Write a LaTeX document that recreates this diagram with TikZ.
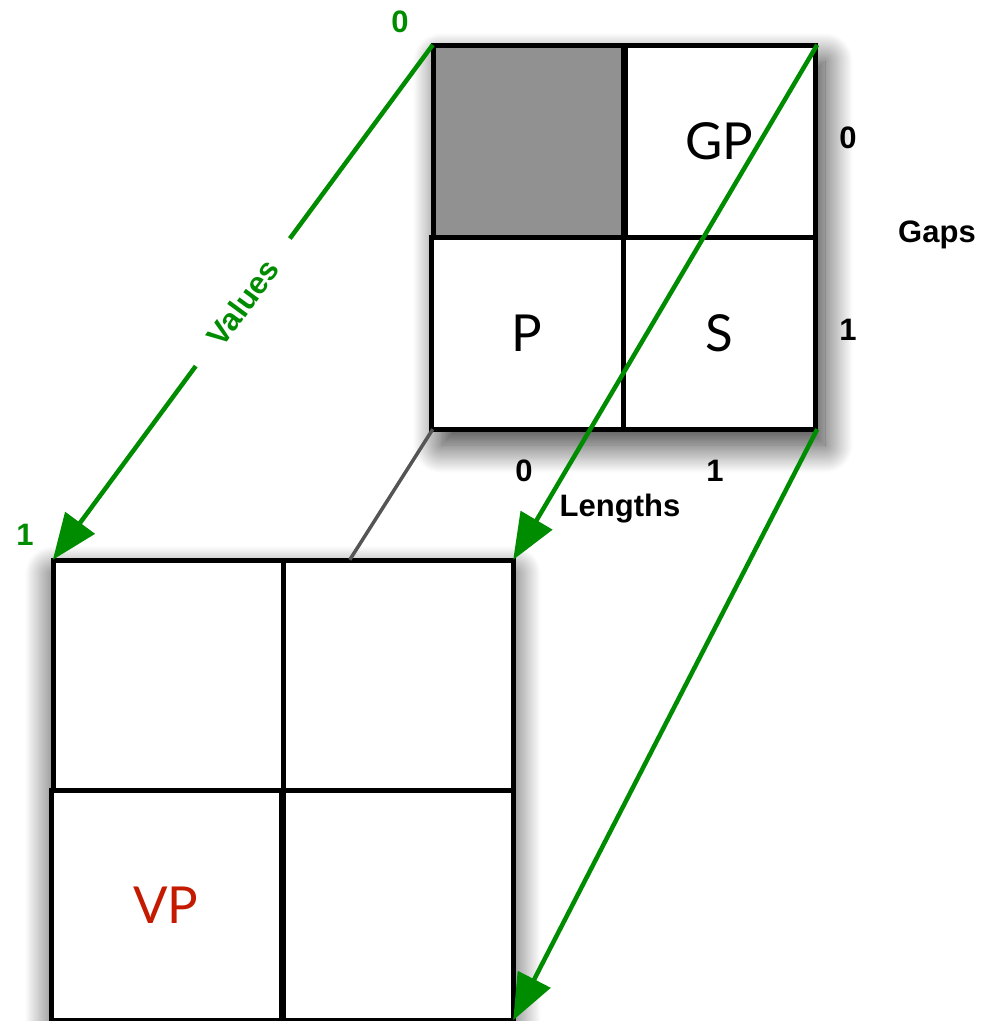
\documentclass[tikz,border=0pt]{standalone}
\usepackage{fontspec}
\setmainfont{Liberation Sans}
\newfontfamily\cellfont{Lato}
\usetikzlibrary{arrows.meta,shadows.blur,calc}
\definecolor{vgreen}{HTML}{008C00}
\definecolor{vred}{HTML}{C41A00}
\definecolor{cellgray}{HTML}{919191}
\definecolor{linegray}{HTML}{555555}
\begin{document}
\begin{tikzpicture}[x=1pt,y=-1pt,
  cellbox/.style={draw=black,line width=5pt,minimum size=192pt,inner sep=0pt,
    font=\cellfont\fontsize{51}{51}\selectfont},
  bigcell/.style={cellbox,minimum size=230pt},
  gridbox/.style={fill=white,inner sep=0pt},
  lab/.style={font=\bfseries\fontsize{31}{31}\selectfont,inner sep=1pt},
  glab/.style={lab,text=vgreen},
  garrow/.style={draw=vgreen,line width=4.5pt,-{Triangle[length=46pt,width=36pt]}},
  ]
\useasboundingbox (0,0) rectangle (984,1021);
% top grid
\node[gridbox,minimum size=384pt,
  blur shadow={shadow xshift=8pt,shadow yshift=-16pt,shadow blur radius=28pt,
    shadow blur steps=30,shadow opacity=80}] (T) at (625,237) {};
\node[cellbox,fill=cellgray] (t00) at (529,141) {};
\node[cellbox] (t10) at (719,141) {GP};
\node[cellbox] (t01) at (527,333) {P};
\node[cellbox] (t11) at (719,333) {S};
% bottom grid
\node[gridbox,minimum size=460pt,
  blur shadow={shadow xshift=0pt,shadow yshift=-14pt,shadow blur radius=28pt,
    shadow blur steps=30,shadow opacity=80}] (B) at (283,790) {};
\node[bigcell] (b00) at (168,675) {};
\node[bigcell] (b10) at (398,675) {};
\node[bigcell,text=vred] (b01) at (166,905) {VP};
\node[bigcell] (b11) at (398,905) {};
% connector between grids
\draw[draw=linegray,line width=3.5pt] (T.south west) -- ($(B.north west)!0.645!(B.north east)$);
% green arrows
\draw[garrow] (T.north west) -- node[sloped,fill=white,glab,inner xsep=30pt,inner ysep=2pt] (vl) {Values} (B.north west);
\draw[garrow] (T.north east) -- (B.north east);
\draw[garrow] (T.south east) -- (B.south east);
% labels
\node[glab] (v0) at (400,22) {0};
\node[glab] (v1) at (25,535) {1};
\node[lab] (g0) at (848,138) {0};
\node[lab] (g1) at (848,330) {1};
\node[lab] (gaps) at (937,235) {Gaps};
\node[lab] (l0) at (524,471) {0};
\node[lab] (l1) at (715,471) {1};
\node[lab] (len) at (620,509) {Lengths};
\end{tikzpicture}
\end{document}
